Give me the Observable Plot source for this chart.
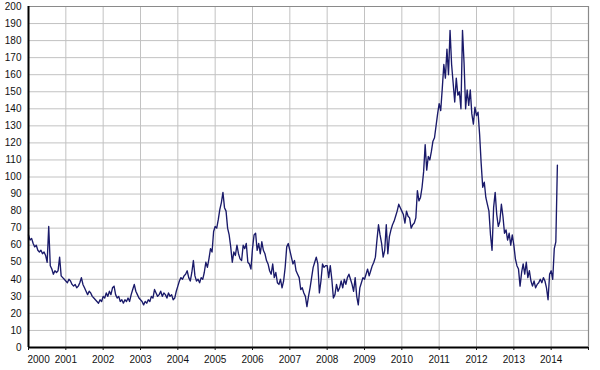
<!DOCTYPE html>
<html><head><meta charset="utf-8">
<script src="https://cdn.jsdelivr.net/npm/d3@7"></script>
<script src="https://cdn.jsdelivr.net/npm/@observablehq/plot@0.6"></script>
<style>body{margin:0;background:#fff} svg{display:block}</style>
</head><body><div id="chart"></div>
<script>
// Half-monthly readings (24 per year), starting 2000.0
const startYear = 2000;
const stepsPerYear = 24;
const v2000 = [66,63,64,61,59,60,57,56,57,55,56,54,50,71,48,46,43,45,44,45,53,42,41,40];
const v2001 = [39,38,40,39,37,36,37,35,36,38,41,37,35,33,31,33,32,30,29,28,27,26,28,27];
const v2002 = [30,29,32,30,33,31,35,36,31,29,30,27,28,26,28,27,29,27,31,34,37,33,31,29];
const v2003 = [28,27,25,27,26,28,27,30,29,34,32,30,31,33,30,32,31,29,32,30,31,28,29,33];
const v2004 = [36,39,41,40,42,43,45,41,39,44,51,42,39,40,38,41,40,44,50,47,52,58,56,68];
const v2005 = [71,70,75,81,85,91,82,80,70,66,59,50,56,54,60,55,52,51,60,58,61,50,49,46];
const v2006 = [58,66,67,57,61,55,62,57,55,51,49,45,43,49,41,44,38,37,40,35,39,47,59,61];
const v2007 = [57,53,49,51,45,43,41,34,35,32,30,24,30,35,41,47,50,53,49,32,39,49,47,48];
const v2008 = [48,41,48,40,29,31,37,33,35,39,35,40,37,41,43,40,37,33,41,30,25,35,38,41];
const v2009 = [40,43,46,42,45,48,50,53,63,72,66,61,53,57,72,55,65,69,72,74,77,80,84,82];
const v2010 = [80,78,73,80,77,76,70,72,73,76,92,86,88,94,103,119,104,112,110,115,121,123,130,137];
const v2011 = [143,139,152,166,158,175,160,186,166,155,144,158,148,150,140,186,167,140,151,142,151,137,131,141];
const v2012 = [136,138,125,108,94,97,88,84,80,66,57,82,91,78,71,74,84,77,67,69,63,67,60,66];
const v2013 = [60,52,48,46,36,44,49,43,50,41,45,39,36,39,35,37,38,40,38,41,39,35,28,43];
const v2014 = [45,40,58,62,107];

const yearTicks = [2000,2001,2002,2003,2004,2005,2006,2007,2008,2009,2010,2011,2012,2013,2014,2015];
const yearLabels = ["2000","2001","2002","2003","2004","2005","2006","2007","2008","2009","2010","2011","2012","2013","2014",""];
const yTicks = [0,10,20,30,40,50,60,70,80,90,100,110,120,130,140,150,160,170,180,190,200];

const values = [].concat(v2000,v2001,v2002,v2003,v2004,v2005,v2006,v2007,v2008,v2009,v2010,v2011,v2012,v2013,v2014);
const data = values.map((v, i) => ({t: startYear + i / stepsPerYear, v}));

const chart = Plot.plot({
  width: 600,
  height: 370,
  marginLeft: 28,
  marginRight: 12,
  marginTop: 6,
  marginBottom: 23,
  x: {domain: [2000, 2015]},
  y: {domain: [0, 200]},
  style: {fontFamily: "'Liberation Sans', Arial, sans-serif", fontSize: "10px", color: "#111", background: "#fff"},
  marks: [
    Plot.gridX(yearTicks, {stroke: "#c2c2c2", strokeOpacity: 1}),
    Plot.gridY(yTicks, {stroke: "#c2c2c2", strokeOpacity: 1}),
    Plot.ruleY([200], {stroke: "#8a8a8a", strokeWidth: 1.2}),
    Plot.ruleX([2015], {stroke: "#8a8a8a", strokeWidth: 1.2}),
    Plot.lineY(data, {x: "t", y: "v", stroke: "#1a1a6a", strokeWidth: 1.35}),
    Plot.ruleX([2000], {stroke: "#000", strokeWidth: 2}),
    Plot.ruleY([0], {stroke: "#000", strokeWidth: 2}),
    Plot.axisY(yTicks, {tickSize: 0, tickPadding: 7, label: null, fontSize: 10}),
    Plot.axisX(yearTicks, {tickSize: 3, tickPadding: 5, label: null, fontSize: 10,
      tickFormat: d => (d === 2000 ? "" : yearLabels[yearTicks.indexOf(d)])}),
    Plot.text([yearTicks[0]], {x: d => d, frameAnchor: "bottom", lineAnchor: "top", dy: 8,
      textAnchor: "start", dx: -1, text: d => yearLabels[0], fontSize: 10, fill: "#111"})
  ]
});
document.getElementById("chart").appendChild(chart);
</script>
</body></html>
